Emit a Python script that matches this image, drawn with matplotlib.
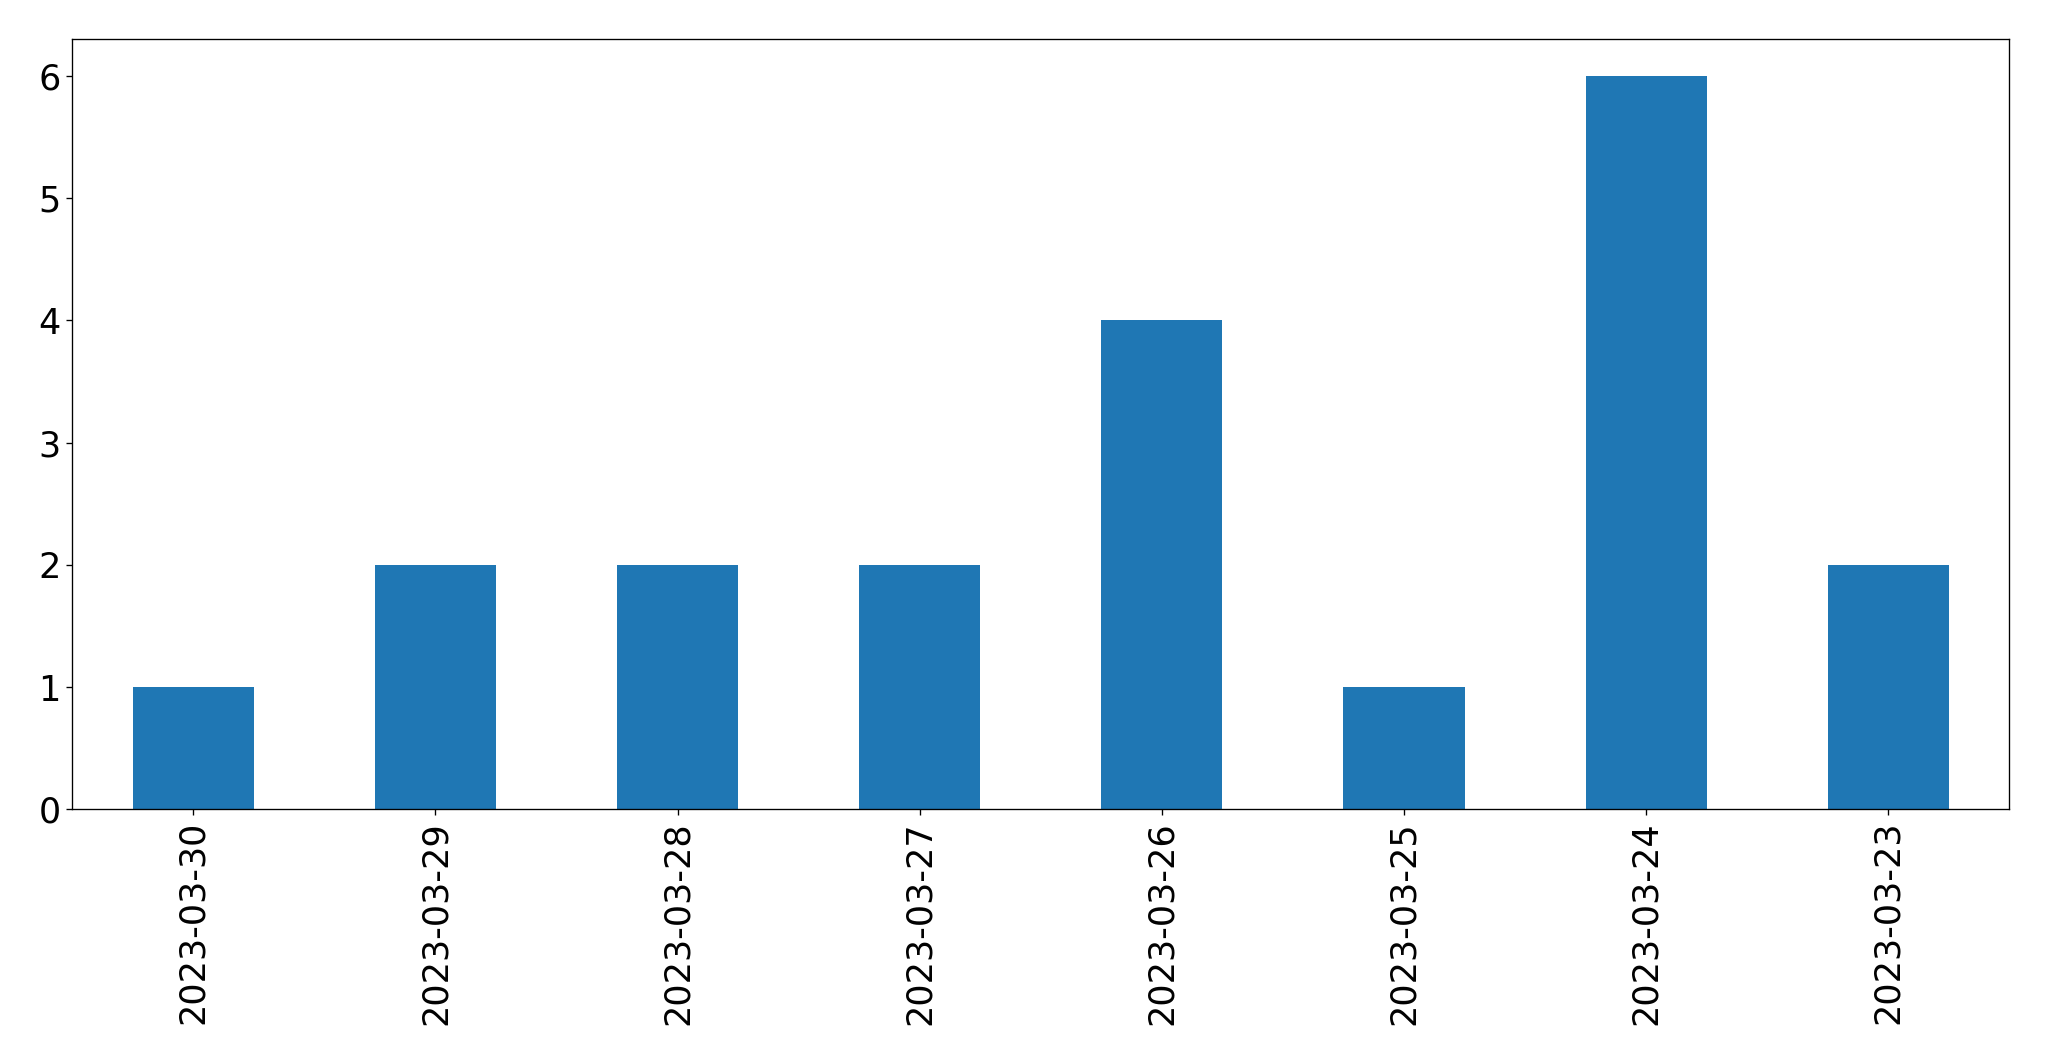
import matplotlib
matplotlib.use("Agg")
import matplotlib.pyplot as plt
import pandas as pd

dates = ["2023-03-30", "2023-03-29", "2023-03-28", "2023-03-27",
         "2023-03-26", "2023-03-25", "2023-03-24", "2023-03-23"]
counts = [1, 2, 2, 2, 4, 1, 6, 2]

s = pd.Series(counts, index=dates)

fig = plt.figure(figsize=(2049 / 120, 1061 / 120), dpi=120)
ax = fig.add_axes([72.3 / 2049, 1 - 809.3 / 1061, (2009.3 - 72.3) / 2049, (809.3 - 39.3) / 1061])
s.plot(kind="bar", ax=ax, color="#1f77b4", width=0.5)
ax.set_ylim(0, 6.3)
ax.tick_params(labelsize=21)
plt.xticks(rotation=90)

fig.savefig("out.png", dpi=120)
